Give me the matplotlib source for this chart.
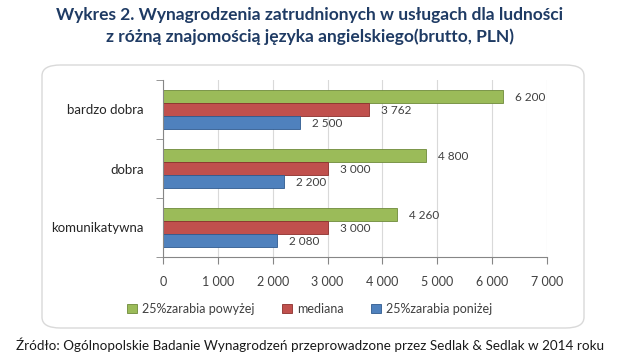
import matplotlib.pyplot as plt
import numpy as np
from matplotlib.patches import FancyBboxPatch

# dane z wykresu
kategorie = ["komunikatywna", "dobra", "bardzo dobra"]
powyzej = [4260, 4800, 6200]
mediana = [3000, 3000, 3762]
ponizej = [2080, 2200, 2500]
serie = ["25%zarabia powyżej", "mediana", "25%zarabia poniżej"]
x_ticks = [0, 1000, 2000, 3000, 4000, 5000, 6000, 7000]

kolory = ["#9BBB59", "#C0504D", "#4F81BD"]
krawedzie = ["#6E8A3A", "#8C2F2C", "#2F5A8F"]

plt.rcParams["font.family"] = ["Lato", "DejaVu Sans"]

W, H = 620, 357
fig = plt.figure(figsize=(W / 100, H / 100), dpi=100)

# zaokraglona ramka wokol wykresu
box = FancyBboxPatch((42 / W, 1 - 328 / H), (584 - 42) / W, (328 - 65) / H,
                     boxstyle="round,pad=0,rounding_size=0.03",
                     transform=fig.transFigure, facecolor="white",
                     edgecolor="#D9D9D9", linewidth=1.0, zorder=-1)
fig.patches.append(box)

ax = fig.add_axes([163 / W, 1 - 257 / H, (547 - 163) / W, (257 - 80) / H])
ax.set_facecolor("none")

y = np.arange(len(kategorie))
h = 0.225
for i, (vals, kol, kr, nazwa) in enumerate(zip([powyzej, mediana, ponizej], kolory, krawedzie, serie)):
    pos = y + (1 - i) * h
    bars = ax.barh(pos, vals, height=h * 0.95, color=kol, edgecolor=kr, linewidth=0.6, label=nazwa)
    for b, v in zip(bars, vals):
        ax.text(v + 220, b.get_y() + b.get_height() / 2 - 0.02, f"{v:,}".replace(",", " "),
                va="center", ha="left", fontsize=8.5, color="#404040")

ax.set_xlim(0, 7000)
ax.set_ylim(-0.5, 2.5)
ax.set_xticks(x_ticks)
ax.set_xticklabels([f"{t:,}".replace(",", " ") for t in x_ticks], fontsize=9, color="#404040")
ax.set_yticks(y)
ax.set_yticklabels(kategorie, fontsize=9.5, color="#262626")
ax.set_yticks([-0.5, 0.5, 1.5, 2.5], minor=True)
ax.tick_params(axis="y", which="major", length=0, pad=14)
ax.tick_params(axis="y", which="minor", length=5, color="#868686")
ax.tick_params(axis="x", length=5, color="#868686", pad=9)
ax.grid(axis="x", color="#D9D9D9", linewidth=0.8)
ax.set_axisbelow(True)
for s in ["top", "right"]:
    ax.spines[s].set_visible(False)
for s in ["left", "bottom"]:
    ax.spines[s].set_color("#868686")

ax.legend(loc="center", bbox_to_anchor=(310 / W, 1 - 309 / H), bbox_transform=fig.transFigure,
          ncol=3, frameon=False, fontsize=9, handlelength=0.8, handleheight=0.8,
          columnspacing=2.2, handletextpad=0.4, labelcolor="#404040")

fig.text(0.5, 1 - 15 / H, "Wykres 2. Wynagrodzenia zatrudnionych w usługach dla ludności",
         ha="center", va="center", fontsize=12.5, fontweight="bold", color="#1F3B64")
fig.text(0.5, 1 - 37 / H, "z różną znajomością języka angielskiego(brutto, PLN)",
         ha="center", va="center", fontsize=12.5, fontweight="bold", color="#1F3B64")
fig.text(0.5, 1 - 345 / H,
         "Źródło: Ogólnopolskie Badanie Wynagrodzeń przeprowadzone przez Sedlak & Sedlak w 2014 roku",
         ha="center", va="center", fontsize=9.7, color="#1A1A1A")

fig.savefig("out.png", dpi=100)
